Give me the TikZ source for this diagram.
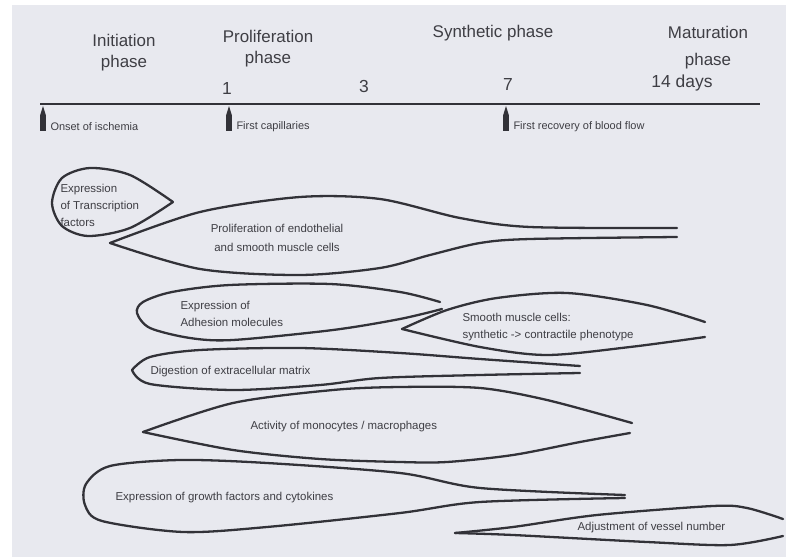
\documentclass[tikz,border=0pt]{standalone}
\usepackage{fontspec}
\setmainfont{Liberation Sans}
\definecolor{fondo}{RGB}{232,233,239}
\definecolor{trazo}{RGB}{50,50,56}
\definecolor{texto}{RGB}{62,62,68}
\tikzset{
  fase/.style={texto, align=center, font=\fontsize{17}{21}\selectfont},
  dia/.style={texto, font=\fontsize{17.5}{20}\selectfont},
  hito/.style={texto, anchor=west, font=\fontsize{11}{13}\selectfont},
  globo/.style={trazo, line width=2.3pt, line cap=round, line join=round},
  rotulo/.style={texto, anchor=west, align=left, font=\fontsize{11.5}{17}\selectfont},
  marca/.style={fill=trazo, draw=none}
}
\begin{document}
\begin{tikzpicture}[x=1bp, y=-1bp]
        % Fondo
        \fill[white] (0,0) rectangle (786,557);
        \fill[fondo] (12,5) rectangle (786,557);
        \useasboundingbox (0,0) rectangle (786,557);

        % Eje del tiempo
        \draw[trazo, line width=3pt] (40,104) -- (760,104);

        % Fases
        \node[fase] (ini) at (124,53) {Initiation\\phase};
        \node[fase] (pro) at (268,49) {Proliferation\\phase};
        \node[fase] (sin) at (493,33) {Synthetic phase};
        \node[fase] (mat) at (708,48) {Maturation\\[6pt]phase};

        % Dias
        \node[dia] (d1) at (227,89) {1};
        \node[dia] (d3) at (364,87) {3};
        \node[dia] (d7) at (508,85) {7};
        \node[dia] (d14) at (682,83) {14 days};

        % Marcas en el eje
        \foreach \x/\n in {43/onset, 229/cap, 506/flow} {
          \fill[marca] (\x-2.8,131) -- (\x-2.8,115) -- (\x,106) -- (\x+2.8,115) -- (\x+2.8,131) -- cycle;
          \coordinate (\n) at (\x+4,127);
        }
        \node[hito] at (onset) {Onset of ischemia};
        \node[hito] at (cap) {First capillaries};
        \node[hito] at (flow) {First recovery of blood flow};

        % Globos
        \draw[globo] plot[smooth] coordinates {(173,202) (130,175) (90,168) (62,178) (52,203) (62,226) (88,236) (130,228) (173,202)};
        \draw[globo] plot[smooth] coordinates {(110,243) (200,212) (300,197) (380,199) (460,218) (530,227) (677,228)};
        \draw[globo] plot[smooth] coordinates {(110,243) (200,269) (300,275) (380,268) (430,255) (480,243) (530,239) (677,237)};
        \draw[globo] plot[smooth] coordinates {(440,302) (400,292) (330,284) (230,285) (172,292) (143,302) (137,313) (150,328) (190,338) (233,340) (333,330) (400,319) (442,309)};
        \draw[globo] plot[smooth] coordinates {(402,329) (447,310) (497,298) (567,293) (647,305) (705,322)};
        \draw[globo] plot[smooth] coordinates {(402,329) (480,347) (547,355) (630,347) (705,337)};
        \draw[globo] plot[smooth] coordinates {(132,370) (150,357) (200,350) (300,348) (400,353) (480,359) (580,366)};
        \draw[globo] plot[smooth] coordinates {(132,370) (150,384) (233,390) (320,385) (380,378) (480,375) (580,373)};
        \draw[globo] plot[smooth] coordinates {(143,432) (233,403) (333,390) (400,387) (480,388) (547,400) (632,423)};
        \draw[globo] plot[smooth] coordinates {(143,432) (233,450) (320,459) (400,462) (447,462) (513,455) (580,442) (630,433)};
        \draw[globo] plot[smooth] coordinates {(625,495) (480,488) (400,473) (267,463) (180,460) (110,466) (86,484) (85,505) (102,521) (183,532) (267,527) (400,513) (480,502) (625,498)};
        \draw[globo] plot[smooth] coordinates {(455,533) (513,527) (597,515) (713,506) (747,508) (783,519)};
        \draw[globo] plot[smooth] coordinates {(455,533) (513,535) (647,542) (730,545) (783,536)};

        % Rotulos
        \node[rotulo] (tf) at (57,205) {Expression\\of Transcription\\factors};
        \node[texto, align=center, font=\fontsize{11.5}{19}\selectfont] (prolif) at (277,238) {Proliferation of endothelial\\and smooth muscle cells};
        \node[rotulo] (adh) at (177,314) {Expression of\\Adhesion molecules};
        \node[rotulo] (smc) at (459,327) {Smooth muscle cells:\\synthetic -> contractile phenotype};
        \node[rotulo] (ecm) at (147,372) {Digestion of extracellular matrix};
        \node[rotulo] (mono) at (247,427) {Activity of monocytes / macrophages};
        \node[rotulo] (gf) at (112,498) {Expression of growth factors and cytokines};
        \node[rotulo] (vessel) at (574,528) {Adjustment of vessel number};
    \end{tikzpicture}
\end{document}
